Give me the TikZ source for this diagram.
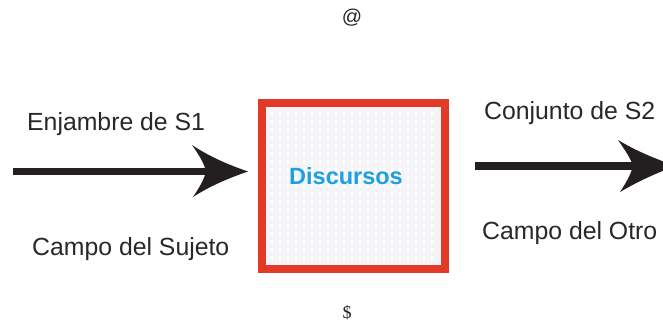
\documentclass[tikz,border=0pt]{standalone}
\usepackage{fontspec}
\setmainfont{Liberation Sans}
\newfontfamily\serifface{Liberation Serif}
\definecolor{boxred}{RGB}{226,58,38}
\definecolor{boxfill}{RGB}{245,245,248}
\definecolor{discblue}{RGB}{28,160,226}
\definecolor{inkdark}{RGB}{35,31,32}
\definecolor{labelgray}{RGB}{40,40,40}
\tikzset{
  lbl/.style={anchor=base west, inner sep=0pt, text=labelgray, font=\fontsize{24.8}{28}\selectfont},
  arrowink/.style={fill=inkdark, draw=none},
  framebox/.style={draw=boxred, line width=8pt, fill=boxfill, inner sep=0pt,
                   minimum width=183pt, minimum height=166pt}
}
\begin{document}
\begin{tikzpicture}[x=1pt,y=1pt]
\useasboundingbox (0,0) rectangle (663,323);
\clip (0,0) rectangle (663,323);
\fill[white] (0,0) rectangle (663,323);

% central box
\node[framebox] (disc) at (353.5,137) {};
% faint dotted texture inside the box
\foreach \i in {0,...,20}{
  \foreach \j in {0,...,18}{
    \fill[white] ({271+\i*8},{63+\j*8}) rectangle ++(1.6,4);
  }
}
\node[anchor=base, inner sep=0pt, text=discblue,
      font=\fontsize{23.5}{26}\selectfont\bfseries] (disctext) at (346,138) {Discursos};

% left arrow
\coordinate (lstart) at (13,151.5);
\coordinate (ltip) at (248,151.5);
\fill[arrowink] (lstart) ++(0,-3.5) rectangle (208,155);
\fill[arrowink] (ltip) .. controls (229,158) and (210,166) .. (192,178)
   .. controls (199,168) and (204,160) .. (206,151.5)
   .. controls (204,143) and (199,135) .. (193,126)
   .. controls (210,137) and (229,145) .. (ltip) -- cycle;

% right arrow
\coordinate (rstart) at (475,157);
\coordinate (rtip) at (676,157);
\fill[arrowink] (rstart) ++(0,-4) rectangle (635,161);
\fill[arrowink] (rtip) .. controls (657,163.5) and (636,172) .. (618,183)
   .. controls (625,173) and (631,164) .. (633,157)
   .. controls (631,149) and (626,140) .. (620,131)
   .. controls (637,141) and (657,150.5) .. (rtip) -- cycle;

% labels
\node[lbl] (enj) at (27,192) {Enjambre de S1};
\node[lbl] (csuj) at (32,67) {Campo del Sujeto};
\node[lbl] (conj) at (484,203) {Conjunto de S2};
\node[lbl] (cotro) at (482,83) {Campo del Otro};

% symbols above and below
\node[inner sep=0pt, text=labelgray, font=\fontsize{20}{22}\selectfont] (at) at (352,305) {@};
\node[inner sep=0pt, text=inkdark, font=\serifface\fontsize{18}{20}\selectfont] (barS) at (347,10) {\$};
\end{tikzpicture}
\end{document}
